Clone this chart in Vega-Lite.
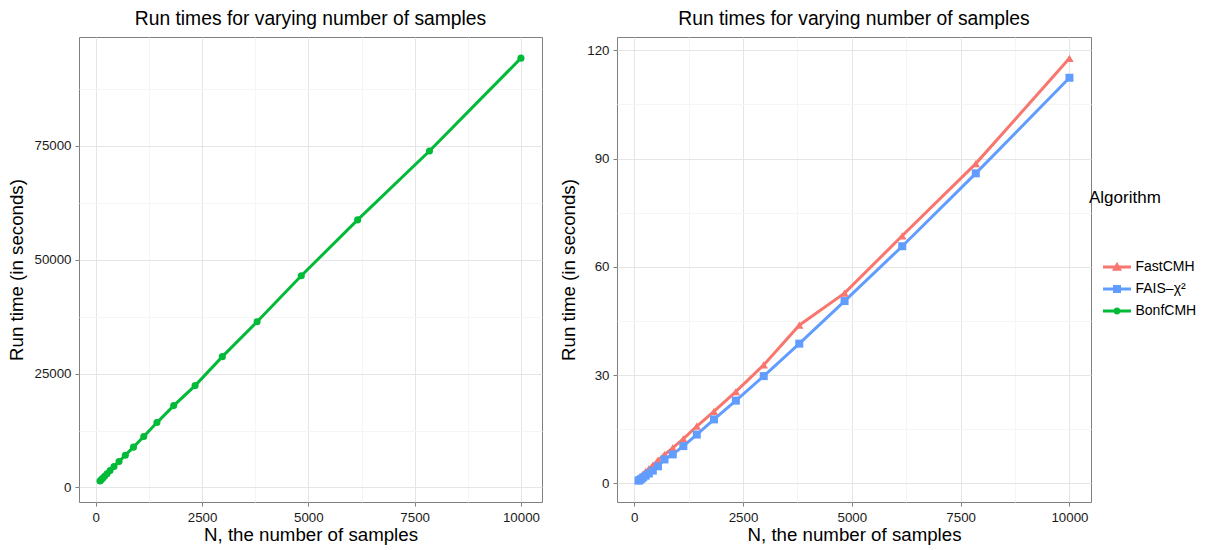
{
  "$schema": "https://vega.github.io/schema/vega-lite/v6.json",
  "padding": {"left": 6, "top": 9, "right": 5, "bottom": 5},
  "background": "white",
  "datasets": {
    "runs": [
      {"N": 100, "time": 1400, "Algorithm": "BonfCMH"},
      {"N": 127, "time": 1700, "Algorithm": "BonfCMH"},
      {"N": 162, "time": 2000, "Algorithm": "BonfCMH"},
      {"N": 207, "time": 2450, "Algorithm": "BonfCMH"},
      {"N": 264, "time": 3000, "Algorithm": "BonfCMH"},
      {"N": 336, "time": 3700, "Algorithm": "BonfCMH"},
      {"N": 428, "time": 4600, "Algorithm": "BonfCMH"},
      {"N": 546, "time": 5700, "Algorithm": "BonfCMH"},
      {"N": 695, "time": 7090, "Algorithm": "BonfCMH"},
      {"N": 886, "time": 8850, "Algorithm": "BonfCMH"},
      {"N": 1129, "time": 11180, "Algorithm": "BonfCMH"},
      {"N": 1438, "time": 14250, "Algorithm": "BonfCMH"},
      {"N": 1833, "time": 17980, "Algorithm": "BonfCMH"},
      {"N": 2336, "time": 22370, "Algorithm": "BonfCMH"},
      {"N": 2976, "time": 28730, "Algorithm": "BonfCMH"},
      {"N": 3793, "time": 36400, "Algorithm": "BonfCMH"},
      {"N": 4833, "time": 46490, "Algorithm": "BonfCMH"},
      {"N": 6158, "time": 58770, "Algorithm": "BonfCMH"},
      {"N": 7848, "time": 73900, "Algorithm": "BonfCMH"},
      {"N": 10000, "time": 94300, "Algorithm": "BonfCMH"},
      {"N": 100, "time": 1.2, "Algorithm": "FastCMH"},
      {"N": 127, "time": 1.5, "Algorithm": "FastCMH"},
      {"N": 162, "time": 2.0, "Algorithm": "FastCMH"},
      {"N": 207, "time": 2.5, "Algorithm": "FastCMH"},
      {"N": 264, "time": 3.2, "Algorithm": "FastCMH"},
      {"N": 336, "time": 4.0, "Algorithm": "FastCMH"},
      {"N": 428, "time": 5.0, "Algorithm": "FastCMH"},
      {"N": 546, "time": 6.4, "Algorithm": "FastCMH"},
      {"N": 695, "time": 7.9, "Algorithm": "FastCMH"},
      {"N": 886, "time": 9.8, "Algorithm": "FastCMH"},
      {"N": 1129, "time": 12.3, "Algorithm": "FastCMH"},
      {"N": 1438, "time": 15.8, "Algorithm": "FastCMH"},
      {"N": 1833, "time": 19.9, "Algorithm": "FastCMH"},
      {"N": 2336, "time": 25.4, "Algorithm": "FastCMH"},
      {"N": 2976, "time": 32.8, "Algorithm": "FastCMH"},
      {"N": 3793, "time": 43.8, "Algorithm": "FastCMH"},
      {"N": 4833, "time": 52.7, "Algorithm": "FastCMH"},
      {"N": 6158, "time": 68.6, "Algorithm": "FastCMH"},
      {"N": 7848, "time": 88.6, "Algorithm": "FastCMH"},
      {"N": 10000, "time": 117.8, "Algorithm": "FastCMH"},
      {"N": 100, "time": 0.7, "Algorithm": "FAIS–χ²"},
      {"N": 127, "time": 0.9, "Algorithm": "FAIS–χ²"},
      {"N": 162, "time": 1.2, "Algorithm": "FAIS–χ²"},
      {"N": 207, "time": 1.6, "Algorithm": "FAIS–χ²"},
      {"N": 264, "time": 2.1, "Algorithm": "FAIS–χ²"},
      {"N": 336, "time": 2.7, "Algorithm": "FAIS–χ²"},
      {"N": 428, "time": 3.5, "Algorithm": "FAIS–χ²"},
      {"N": 546, "time": 4.7, "Algorithm": "FAIS–χ²"},
      {"N": 695, "time": 6.6, "Algorithm": "FAIS–χ²"},
      {"N": 886, "time": 8.0, "Algorithm": "FAIS–χ²"},
      {"N": 1129, "time": 10.3, "Algorithm": "FAIS–χ²"},
      {"N": 1438, "time": 13.5, "Algorithm": "FAIS–χ²"},
      {"N": 1833, "time": 17.7, "Algorithm": "FAIS–χ²"},
      {"N": 2336, "time": 22.9, "Algorithm": "FAIS–χ²"},
      {"N": 2976, "time": 29.7, "Algorithm": "FAIS–χ²"},
      {"N": 3793, "time": 38.7, "Algorithm": "FAIS–χ²"},
      {"N": 4833, "time": 50.5, "Algorithm": "FAIS–χ²"},
      {"N": 6158, "time": 65.7, "Algorithm": "FAIS–χ²"},
      {"N": 7848, "time": 85.9, "Algorithm": "FAIS–χ²"},
      {"N": 10000, "time": 112.4, "Algorithm": "FAIS–χ²"}
    ]
  },
  "data": {"name": "runs"},
  "spacing": 16,
  "resolve": {"scale": {"color": "shared"}, "legend": {"color": "shared"}},
  "hconcat": [
    {
      "width": 463,
      "height": 465,
      "title": "Run times for varying number of samples",
      "transform": [{"filter": "datum.Algorithm === 'BonfCMH'"}],
      "encoding": {
        "x": {"field": "N", "type": "quantitative", "title": "N, the number of samples",
              "scale": {"domain": [-395, 10495], "nice": false, "zero": false},
              "axis": {"values": [0, 1250, 2500, 3750, 5000, 6250, 7500, 8750, 10000],
                       "labelExpr": "datum.value % 2500 === 0 ? format(datum.value, 'd') : ''",
                       "gridColor": {"condition": {"test": "datum.value % 2500 === 0", "value": "#E5E5E5"}, "value": "#F5F5F5"},
                       "tickColor": {"condition": {"test": "datum.value % 2500 === 0", "value": "#7F7F7F"}, "value": "transparent"}}},
        "y": {"field": "time", "type": "quantitative", "title": "Run time (in seconds)",
              "scale": {"domain": [-3196, 98941], "nice": false, "zero": false},
              "axis": {"values": [0, 12500, 25000, 37500, 50000, 62500, 75000, 87500],
                       "labelExpr": "datum.value % 25000 === 0 ? format(datum.value, 'd') : ''",
                       "gridColor": {"condition": {"test": "datum.value % 25000 === 0", "value": "#E5E5E5"}, "value": "#F5F5F5"},
                       "tickColor": {"condition": {"test": "datum.value % 25000 === 0", "value": "#7F7F7F"}, "value": "transparent"}}},
        "color": {"field": "Algorithm", "type": "nominal",
                  "scale": {"domain": ["FastCMH", "FAIS–χ²", "BonfCMH"], "range": ["#F8766D", "#619CFF", "#00BA38"]}}
      },
      "layer": [
        {"mark": {"type": "line", "strokeWidth": 3}},
        {"mark": {"type": "point", "filled": true, "opacity": 1, "size": 50, "shape": "circle"}}
      ]
    },
    {
      "width": 474,
      "height": 465,
      "title": "Run times for varying number of samples",
      "transform": [{"filter": "datum.Algorithm !== 'BonfCMH'"}],
      "encoding": {
        "x": {"field": "N", "type": "quantitative", "title": "N, the number of samples",
              "scale": {"domain": [-395, 10495], "nice": false, "zero": false},
              "axis": {"values": [0, 1250, 2500, 3750, 5000, 6250, 7500, 8750, 10000],
                       "labelExpr": "datum.value % 2500 === 0 ? format(datum.value, 'd') : ''",
                       "gridColor": {"condition": {"test": "datum.value % 2500 === 0", "value": "#E5E5E5"}, "value": "#F5F5F5"},
                       "tickColor": {"condition": {"test": "datum.value % 2500 === 0", "value": "#7F7F7F"}, "value": "transparent"}}},
        "y": {"field": "time", "type": "quantitative", "title": "Run time (in seconds)",
              "scale": {"domain": [-5.2, 123.7], "nice": false, "zero": false},
              "axis": {"values": [0, 15, 30, 45, 60, 75, 90, 105, 120],
                       "labelExpr": "datum.value % 30 === 0 ? format(datum.value, 'd') : ''",
                       "gridColor": {"condition": {"test": "datum.value % 30 === 0", "value": "#E5E5E5"}, "value": "#F5F5F5"},
                       "tickColor": {"condition": {"test": "datum.value % 30 === 0", "value": "#7F7F7F"}, "value": "transparent"}}},
        "color": {"field": "Algorithm", "type": "nominal",
                  "scale": {"domain": ["FastCMH", "FAIS–χ²", "BonfCMH"], "range": ["#F8766D", "#619CFF", "#00BA38"]},
                  "legend": {"title": "Algorithm", "orient": "none", "legendX": 1010, "legendY": 153,
                             "titleFontSize": 17, "titleFontWeight": "normal", "titleColor": "#000", "titlePadding": 50,
                             "labelFontSize": 14, "labelColor": "#000", "labelOffset": 8.5,
                             "symbolSize": 400, "rowPadding": 5, "symbolOffset": 18,
                             "encode": {"symbols": {"update": {
                               "shape": {"signal": "datum.value === 'FastCMH' ? 'M-1.4,-0.15H1.4V0.15H-1.4Z M0,-0.52L0.5,0.38L-0.5,0.38Z' : datum.value === 'BonfCMH' ? 'M-1.4,-0.15H1.4V0.15H-1.4Z M0.36,0A0.36,0.36 0 1,1 -0.36,0A0.36,0.36 0 1,1 0.36,0Z' : 'M-1.4,-0.15H1.4V0.15H-1.4Z M-0.4,-0.4H0.4V0.4H-0.4Z'"},
                               "fill": {"signal": "scale('color', datum.value)"},
                               "stroke": {"value": "transparent"},
                               "strokeWidth": {"value": 0},
                               "opacity": {"value": 1},
                               "fillOpacity": {"value": 1}
                             }}}}}
      },
      "layer": [
        {"mark": {"type": "line", "strokeWidth": 3}},
        {"transform": [{"filter": "datum.Algorithm === 'FastCMH'"}],
         "mark": {"type": "point", "filled": true, "opacity": 1, "size": 70, "shape": "triangle-up"}},
        {"transform": [{"filter": "datum.Algorithm !== 'FastCMH'"}],
         "mark": {"type": "point", "filled": true, "opacity": 1, "size": 64, "shape": "square"}}
      ]
    }
  ],
  "config": {
    "font": "Liberation Sans",
    "view": {"stroke": "#7F7F7F", "strokeWidth": 1},
    "title": {"fontSize": 19.3, "fontWeight": "normal", "color": "#000", "anchor": "middle", "offset": 8},
    "axis": {"domain": false, "grid": true, "gridWidth": 1, "ticks": true, "tickSize": 4, "tickWidth": 1,
             "labelFontSize": 13.3, "labelColor": "#1a1a1a", "labelPadding": 4,
             "titleFontSize": 18.7, "titleFontWeight": "normal", "titleColor": "#000"},
    "axisX": {"titlePadding": 2},
    "axisY": {"titlePadding": 8},
    "legend": {"symbolStrokeWidth": 0}
  }
}
